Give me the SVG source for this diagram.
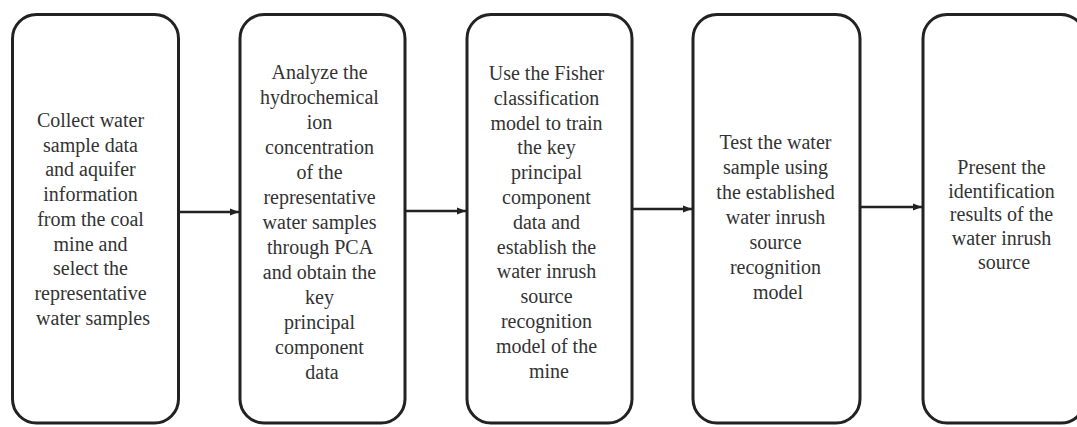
<svg xmlns="http://www.w3.org/2000/svg" width="1077" height="427" viewBox="0 0 1077 427">
<defs>
<marker id="ah" markerWidth="10" markerHeight="8" refX="9" refY="4" orient="auto" markerUnits="userSpaceOnUse">
<path d="M0,0.5 L9,4 L0,7.5 Z" fill="#222"/>
</marker>
<style>
.box{fill:#fff;stroke:#222;stroke-width:3}
.lbl{font-family:"Liberation Serif","Times New Roman",serif;font-size:20px;fill:#333;text-anchor:middle}
.conn{stroke:#222;stroke-width:2.5;fill:none}
</style>
</defs>
<rect x="0" y="0" width="1077" height="427" fill="#fff"/>
<g id="connectors">
<line class="conn" x1="179" y1="212" x2="239" y2="212" marker-end="url(#ah)"/>
<line class="conn" x1="406" y1="211" x2="466" y2="211" marker-end="url(#ah)"/>
<line class="conn" x1="633" y1="209" x2="692" y2="209" marker-end="url(#ah)"/>
<line class="conn" x1="861" y1="207" x2="922" y2="207" marker-end="url(#ah)"/>
</g>
<g id="node1">
<rect class="box" x="12.5" y="14.5" width="166" height="408.5" rx="24"/>
<text class="lbl" x="93" y="127">
<tspan x="93">Collect water</tspan>
<tspan x="93" dy="24.7">sample data</tspan>
<tspan x="93" dy="24.7">and aquifer</tspan>
<tspan x="93" dy="24.7">information</tspan>
<tspan x="93" dy="24.7">from the coal</tspan>
<tspan x="93" dy="24.7">mine and</tspan>
<tspan x="93" dy="24.7">select the</tspan>
<tspan x="93" dy="24.7">representative</tspan>
<tspan x="93" dy="24.7">water samples</tspan>
</text>
</g>
<g id="node2">
<rect class="box" x="240" y="14.5" width="165" height="408.5" rx="24"/>
<text class="lbl" x="322" y="79">
<tspan x="322">Analyze the</tspan>
<tspan x="322" dy="25">hydrochemical</tspan>
<tspan x="322" dy="25">ion</tspan>
<tspan x="322" dy="25">concentration</tspan>
<tspan x="322" dy="25">of the</tspan>
<tspan x="322" dy="25">representative</tspan>
<tspan x="322" dy="25">water samples</tspan>
<tspan x="322" dy="25">through PCA</tspan>
<tspan x="322" dy="25">and obtain the</tspan>
<tspan x="322" dy="25">key</tspan>
<tspan x="322" dy="25">principal</tspan>
<tspan x="322" dy="25">component</tspan>
<tspan x="322" dy="25">data</tspan>
</text>
</g>
<g id="node3">
<rect class="box" x="467" y="14.5" width="165" height="408.5" rx="24"/>
<text class="lbl" x="549" y="80">
<tspan x="549">Use the Fisher</tspan>
<tspan x="549" dy="24.8">classification</tspan>
<tspan x="549" dy="24.8">model to train</tspan>
<tspan x="549" dy="24.8">the key</tspan>
<tspan x="549" dy="24.8">principal</tspan>
<tspan x="549" dy="24.8">component</tspan>
<tspan x="549" dy="24.8">data and</tspan>
<tspan x="549" dy="24.8">establish the</tspan>
<tspan x="549" dy="24.8">water inrush</tspan>
<tspan x="549" dy="24.8">source</tspan>
<tspan x="549" dy="24.8">recognition</tspan>
<tspan x="549" dy="24.8">model of the</tspan>
<tspan x="549" dy="24.8">mine</tspan>
</text>
</g>
<g id="node4">
<rect class="box" x="693" y="14.5" width="167" height="408.5" rx="24"/>
<text class="lbl" x="778" y="149">
<tspan x="778">Test the water</tspan>
<tspan x="778" dy="25">sample using</tspan>
<tspan x="778" dy="25">the established</tspan>
<tspan x="778" dy="25">water inrush</tspan>
<tspan x="778" dy="25">source</tspan>
<tspan x="778" dy="25">recognition</tspan>
<tspan x="778" dy="25">model</tspan>
</text>
</g>
<g id="node5">
<rect class="box" x="923" y="14.5" width="162" height="408.5" rx="24"/>
<text class="lbl" x="1004" y="174">
<tspan x="1004">Present the</tspan>
<tspan x="1004" dy="23.7">identification</tspan>
<tspan x="1004" dy="23.7">results of the</tspan>
<tspan x="1004" dy="23.7">water inrush</tspan>
<tspan x="1004" dy="23.7">source</tspan>
</text>
</g>
</svg>
